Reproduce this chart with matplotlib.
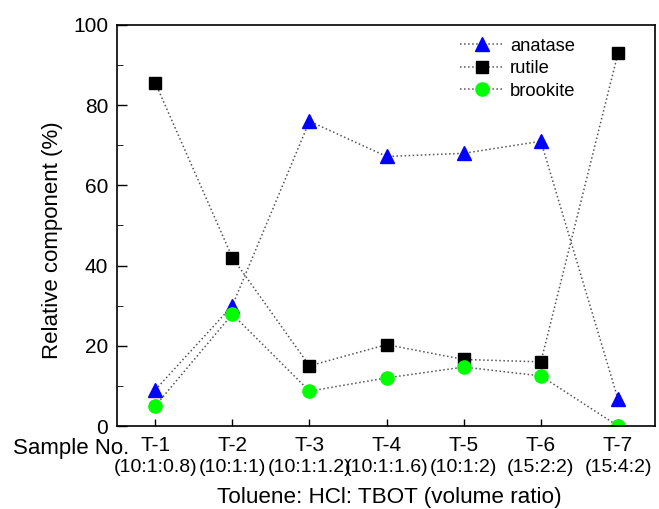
import numpy as np
import matplotlib.pyplot as plt

plt.rcParams['font.family'] = ['Liberation Sans', 'DejaVu Sans']

samples = ['T-1', 'T-2', 'T-3', 'T-4', 'T-5', 'T-6', 'T-7']
ratios = ['(10:1:0.8)', '(10:1:1)', '(10:1:1.2)', '(10:1:1.6)', '(10:1:2)', '(15:2:2)', '(15:4:2)']
anatase = [9, 30, 76, 67.2, 68, 71, 6.7]
rutile = [85.6, 42, 15, 20.3, 16.6, 16, 93]
brookite = [5, 27.9, 8.7, 12, 14.7, 12.5, 0]

x = np.arange(1, len(samples) + 1)

fig = plt.figure(figsize=(6.59, 5.09), dpi=100)
ax = fig.add_axes([0.177, 0.163, 0.817, 0.788])

line_kw = dict(color='#555555', linestyle=':', linewidth=1.1)
ax.plot(x, anatase, marker='^', markersize=10, markerfacecolor='blue',
        markeredgecolor='blue', label='anatase', **line_kw)
ax.plot(x, rutile, marker='s', markersize=8, markerfacecolor='black',
        markeredgecolor='black', label='rutile', **line_kw)
ax.plot(x, brookite, marker='o', markersize=9.5, markerfacecolor='#00ff00',
        markeredgecolor='#00ff00', label='brookite', **line_kw)

ax.set_xlim(0.5, 7.48)
ax.set_ylim(0, 100)
ax.set_yticks(np.arange(0, 101, 20))
ax.set_yticks(np.arange(10, 100, 20), minor=True)
ax.set_xticks(x)
ax.set_xticklabels(samples)
ax.tick_params(axis='both', which='both', direction='in')
ax.tick_params(axis='both', which='major', labelsize=15, width=1)
ax.tick_params(axis='y', which='major', length=7, pad=6)
ax.tick_params(axis='y', which='minor', length=4)
ax.tick_params(axis='x', which='major', length=5, pad=7)

# second line of the category labels and the row caption
for i, r in zip(x, ratios):
    ax.text(i, -10.3, r, ha='center', va='center', fontsize=14, clip_on=False)
ax.text(-0.85, -5.6, 'Sample No.', ha='left', va='center', fontsize=16, clip_on=False)
ax.text(4.03, -17.9, 'Toluene: HCl: TBOT (volume ratio)', ha='center', va='center',
        fontsize=16.2, clip_on=False)
ax.text(-0.33, 46.4, 'Relative component (%)', ha='center', va='center',
        rotation=90, fontsize=16, clip_on=False)

for s in ax.spines.values():
    s.set_linewidth(1.2)

ax.legend(loc='upper right', frameon=False, fontsize=13.2, handlelength=2.4,
          handletextpad=0.3, labelspacing=0.3, borderaxespad=0.3,
          bbox_to_anchor=(0.876, 1.0))

fig.savefig('out.png', dpi=100)
